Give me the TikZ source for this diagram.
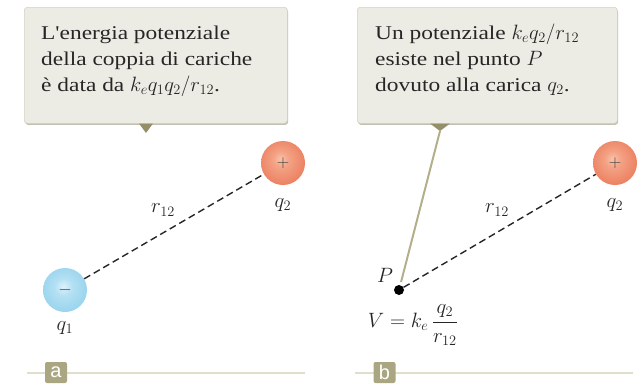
\documentclass[tikz,border=0pt]{standalone}
\usepackage{fontspec}
\setmainfont{Liberation Serif}
\newfontfamily\calloutfont[FakeStretch=1.2]{Liberation Serif}
\newfontfamily\tagsans{Liberation Sans}
\usetikzlibrary{shadows}
\definecolor{boxfill}{HTML}{EDECE4}
\definecolor{boxedge}{HTML}{D4D2C4}
\definecolor{boxshadow}{HTML}{C2C0B0}
\definecolor{pointercol}{HTML}{958F68}
\definecolor{leadercol}{HTML}{B4AF8B}
\definecolor{tagfill}{HTML}{ABA682}
\definecolor{rulecol}{HTML}{E0DFCB}
\definecolor{inkcol}{HTML}{262626}
\definecolor{rsA}{HTML}{F8C3A9}
\definecolor{rsB}{HTML}{F4A285}
\definecolor{rsC}{HTML}{E97858}
\definecolor{rsD}{HTML}{DB6244}
\definecolor{bsA}{HTML}{DDF2FB}
\definecolor{bsB}{HTML}{B4E0F3}
\definecolor{bsC}{HTML}{8DCFEC}
\definecolor{bsD}{HTML}{6CBCE2}
\pgfdeclareradialshading{redsphere}{\pgfpoint{-3bp}{5bp}}{color(0bp)=(rsA); color(9bp)=(rsB); color(32bp)=(rsC); color(50bp)=(rsD)}
\pgfdeclareradialshading{bluesphere}{\pgfpoint{-2bp}{4bp}}{color(0bp)=(bsA); color(10bp)=(bsB); color(34bp)=(bsC); color(50bp)=(bsD)}
\tikzset{
  calloutbox/.style={draw=boxedge, fill=boxfill, rounded corners=3pt, line width=0.6pt,
    anchor=north west, inner sep=0pt,
    drop shadow={shadow xshift=0.8pt, shadow yshift=-1.6pt, fill=boxshadow, opacity=1}},
  callouttext/.style={anchor=base west, align=left, inner sep=0pt, text=inkcol,
    font=\calloutfont\fontsize{19.5}{26}\selectfont},
  sphere/.style={circle, minimum size=44pt, inner sep=0pt, text=black!75, font=\fontsize{16}{16}\selectfont},
  dashline/.style={draw=black!85, line width=1.4pt, dash pattern=on 7pt off 4pt},
  mathlabel/.style={inner sep=0pt, text=inkcol, font=\fontsize{21}{21}\selectfont},
  pointdot/.style={circle, fill=black, minimum size=10pt, inner sep=0pt},
  leader/.style={draw=leadercol, line width=2pt},
  rule/.style={draw=rulecol, line width=2.5pt},
  tag/.style={fill=tagfill, rounded corners=2pt, minimum width=22pt, minimum height=21pt,
    inner sep=0pt, text=white, font=\tagsans\fontsize{20}{20}\selectfont}
}
\begin{document}
\begin{tikzpicture}[x=1pt, y=-1pt]
\useasboundingbox (0,0) rectangle (643,384);
% ---- panel a
\node[calloutbox, minimum width=263pt, minimum height=116pt] (boxA) at (24,7) {};
\node[callouttext] (textA) at (41,91) {L'energia potenziale\\della coppia di cariche\\è data da $k_e q_1 q_2/r_{12}$.};
\coordinate (tipA) at (146,133);
\fill[pointercol] (139,123.5) -- (153,123.5) -- (tipA) -- cycle;
\node[sphere, shading=bluesphere] (q1) at (65,290) {$-$};
\node[sphere, shading=redsphere] (q2a) at (283,163) {$+$};
\draw[dashline] (q1) -- (q2a);
\node[mathlabel] (r12a) at (163,210) {$r_{12}$};
\node[mathlabel] (q2alab) at (283,205) {$q_2$};
\node[mathlabel] (q1lab) at (65,328) {$q_1$};
% ---- panel b
\node[calloutbox, minimum width=260pt, minimum height=116pt] (boxB) at (357,7) {};
\node[callouttext] (textB) at (375,91) {Un potenziale $k_e q_2/r_{12}$\\esiste nel punto $P$\\dovuto alla carica $q_2$.};
\coordinate (tipB) at (440,131);
\fill[pointercol] (430,123.5) -- (450,123.5) -- (tipB) -- cycle;
\node[pointdot] (P) at (399,290) {};
\draw[leader, shorten >=3pt] (tipB) -- (P);
\node[sphere, shading=redsphere] (q2b) at (615,163) {$+$};
\draw[dashline] (P) -- (q2b);
\node[mathlabel] (r12b) at (497,210) {$r_{12}$};
\node[mathlabel] (q2blab) at (615,205) {$q_2$};
\node[mathlabel] (Plab) at (385,275) {$P$};
\node[mathlabel, font=\fontsize{20}{20}\selectfont] (Vform) at (413,325) {$\displaystyle V = k_e\,\frac{q_2}{r_{12}}$};
% ---- bottom rules and tags
\coordinate (ruleAs) at (27,373);
\coordinate (ruleAe) at (305,373);
\coordinate (ruleBs) at (355,373);
\coordinate (ruleBe) at (633,373);
\draw[rule] (ruleAs) -- (ruleAe);
\draw[rule] (ruleBs) -- (ruleBe);
\node[tag] (tagA) at (56,372.5) {a};
\node[tag] (tagB) at (384.5,372.5) {b};
\end{tikzpicture}
\end{document}
